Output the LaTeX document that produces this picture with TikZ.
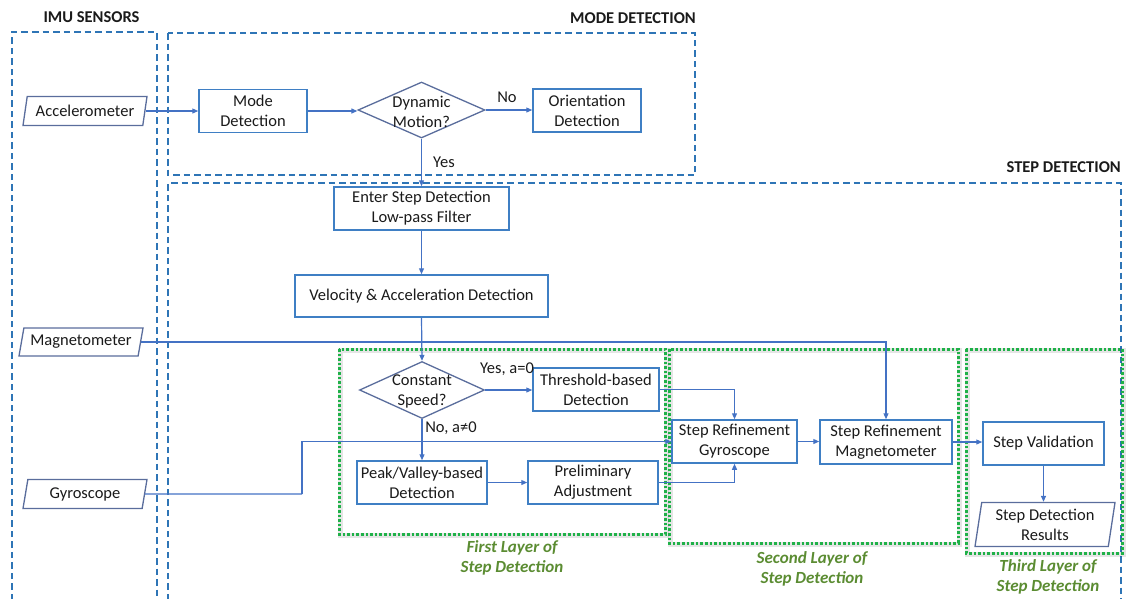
\documentclass[tikz,border=0pt]{standalone}
\usepackage{fontspec}
\setmainfont{Carlito}
\usetikzlibrary{shapes.geometric,arrows.meta}

\definecolor{groupblue}{HTML}{2E75B6}
\definecolor{boxblue}{HTML}{3F7FC4}
\definecolor{linkblue}{HTML}{4472C4}
\definecolor{diablue}{HTML}{5A6D9C}
\definecolor{layergreen}{HTML}{1FB148}
\definecolor{labelgreen}{HTML}{5B8C32}
\definecolor{inktext}{HTML}{1A1A1A}

\newcommand{\bodyfont}{\fontsize{16.5}{20}\selectfont}

\begin{document}
\begin{tikzpicture}[x=1pt,y=-1pt,
  every node/.style={text=inktext},
  groupbox/.style={draw=groupblue, line width=2pt, dash pattern=on 6.5pt off 4pt},
  grouptitle/.style={font=\fontsize{16.5}{18}\selectfont\bfseries, inner sep=0},
  layerbox/.style={draw=layergreen, line width=3pt, dash pattern=on 2.6pt off 2pt},
  layershadow/.style={draw=black, opacity=0.1, line width=5pt},
  layerlabel/.style={font=\fontsize{17}{20}\selectfont\bfseries\itshape, text=labelgreen, align=center, inner sep=0},
  proc/.style={draw=boxblue, line width=1.5pt, fill=white, align=center, font=\bodyfont, inner sep=0},
  iobox/.style={trapezium, trapezium left angle=70, trapezium right angle=110,
    trapezium stretches body=true, draw=diablue, line width=1.3pt, fill=white,
    align=center, font=\bodyfont, inner sep=0},
  decision/.style={diamond, draw=diablue, line width=1.3pt, fill=white, inner sep=0, aspect=2},
  dtext/.style={align=center, font=\bodyfont, inner sep=0},
  link/.style={draw=linkblue, line width=1.2pt, -{Triangle[length=6pt,width=5pt]}},
  plainlink/.style={draw=linkblue, line width=1.2pt},
  lbl/.style={font=\bodyfont, inner sep=0}
]
\useasboundingbox (0,0) rectangle (1130,598);
\clip (0,0) rectangle (1130,598);

% group frames
\draw[groupbox] (12,600) -- (12,32) -- (157,32) -- (157,600);
\draw[groupbox] (168,33) rectangle (695,175);
\draw[groupbox] (168,600) -- (168,183) -- (1121,183) -- (1121,600);
\node[grouptitle] (t-imu) at (91.5,17) {IMU SENSORS};
\node[grouptitle, anchor=east] (t-mode) at (696,18) {MODE DETECTION};
\node[grouptitle, anchor=east] (t-step) at (1121,167) {STEP DETECTION};

% layer frames with a soft shadow
\draw[layershadow] (340,350) rectangle (666,535);
\draw[layershadow] (670,350) rectangle (959,544);
\draw[layershadow] (967,350) rectangle (1123,554);
\draw[layerbox] (339,349) rectangle (665,534);
\draw[layerbox] (669,349) rectangle (958,543);
\draw[layerbox] (966,349) rectangle (1122,553);
\node[layerlabel] (l-first) at (512,558) {First Layer of\\Step Detection};
\node[layerlabel] (l-second) at (812,569) {Second Layer of\\Step Detection};
\node[layerlabel] (l-third) at (1048,577) {Third Layer of\\Step Detection};

% sensors
\node[iobox, minimum width=124pt, minimum height=29pt] (acc) at (85,111) {Accelerometer};
\node[iobox, minimum width=124pt, minimum height=28pt] (mag) at (81,342) {Magnetometer};
\node[iobox, minimum width=124pt, minimum height=29pt] (gyro) at (85,494) {Gyroscope};

% mode detection
\node[proc, minimum width=108pt, minimum height=43pt] (md) at (253,111) {Mode\\Detection};
\node[decision, minimum width=127pt, minimum height=56pt] (dm) at (421.5,110) {};
\node[dtext] (dm-text) at (421.5,112) {Dynamic\\Motion?};
\node[proc, minimum width=108pt, minimum height=43pt] (od) at (587,110.5) {Orientation\\Detection};

% step detection
\node[proc, minimum width=175pt, minimum height=43pt] (esd) at (421.5,208.5) {Enter Step Detection\\Low-pass Filter};
\node[proc, minimum width=253pt, minimum height=42pt] (vad) at (421.5,296) {Velocity \& Acceleration Detection};
\node[decision, minimum width=125pt, minimum height=57pt] (cs) at (422,390) {};
\node[dtext] (cs-text) at (422,391) {Constant\\Speed?};
\node[proc, minimum width=126pt, minimum height=43pt] (thr) at (596,389.5) {Threshold-based\\Detection};
\node[proc, minimum width=130pt, minimum height=43pt] (pv) at (422,482.5) {Peak/Valley-based\\Detection};
\node[proc, minimum width=130pt, minimum height=43pt] (pa) at (593,482.5) {Preliminary\\Adjustment};
\node[proc, minimum width=125pt, minimum height=43pt] (srg) at (734.5,441.5) {Step Refinement\\Gyroscope};
\node[proc, minimum width=132pt, minimum height=44pt] (srm) at (886,442) {Step Refinement\\Magnetometer};
\node[proc, minimum width=121pt, minimum height=43pt] (sv) at (1043.5,443.5) {Step Validation};
\node[iobox, trapezium left angle=78, trapezium right angle=102,
      minimum width=140pt, minimum height=44pt] (sdr) at (1045,524.5) {Step Detection\\Results};

% connectors
\draw[link] (acc.east) -- (md.west |- acc.east);
\draw[link] (md.east) -- (dm.west |- md.east);
\draw[link] (dm.east) -- (od.west |- dm.east);
\node[lbl] (no-lbl) at (507,97) {No};
\draw[link] (dm.south) -- (esd.north);
\node[lbl, anchor=west] (yes-lbl) at (433,162) {Yes};
\draw[link] (esd.south) -- (vad.north);
\draw[link] (vad.south) -- (cs.north);
\draw[link] (cs.east) -- (thr.west |- cs.east);
\node[lbl] (yes0-lbl) at (507,369) {Yes, a=0};
\draw[link] (cs.south) -- (pv.north);
\node[lbl] (no0-lbl) at (451,428) {No, a≠0};
\draw[link] (pv.east) -- (pa.west |- pv.east);
\draw[link] (thr.east) -| (srg.north);
\draw[link] (pa.east) -| (srg.south);
\coordinate (gyro-bend) at (302,494);
\draw[plainlink] (gyro.east) -- (gyro-bend);
\draw[link] (gyro-bend) |- (srg.west);
\draw[link] (mag.east) -| (srm.north);
\draw[link] (srg.east) -- (srm.west |- srg.east);
\draw[link] (srm.east) -- (sv.west |- srm.east);
\draw[link] (sv.south) -- (sv.south |- sdr.north);
\end{tikzpicture}
\end{document}
